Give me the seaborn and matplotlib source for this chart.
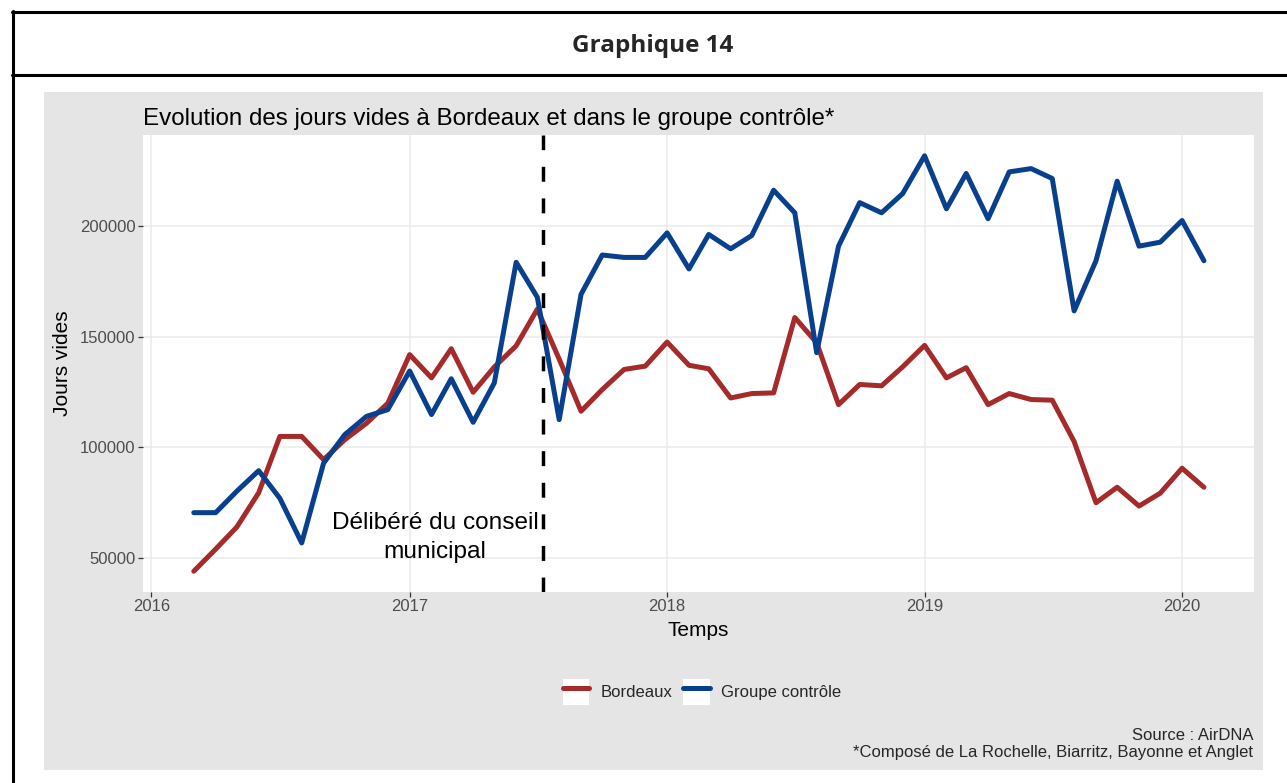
import numpy as np
import pandas as pd
import matplotlib.pyplot as plt
from matplotlib.patches import Rectangle
from matplotlib.lines import Line2D
from matplotlib.legend_handler import HandlerTuple
import matplotlib.dates as mdates
import seaborn as sns

# ============================================================
# 1. DONNÉES (jours vides par mois)
# ============================================================
mois = pd.date_range('2016-03-01', periods=48, freq='MS')

bordeaux = [44000, 54000, 64000, 79500, 105000, 105000, 94500, 103500, 111000, 120000,
            142000, 131500, 144700, 125000, 136400, 146000, 162600, 140000, 116400, 126200,
            135300, 136800, 147700, 137200, 135600, 122400, 124400, 124700, 158800, 147400,
            119400, 128500, 127900, 136500, 146200, 131500, 136100, 119400, 124400, 121700,
            121400, 102700, 75000, 82000, 73500, 79300, 90600, 82000]

groupe_controle = [70500, 70500, 80200, 89500, 77000, 56800, 92900, 105800, 114100, 117100,
                   134600, 114900, 131100, 111400, 129200, 183800, 168000, 112600, 169300, 187100,
                   186000, 186000, 197100, 180800, 196400, 189900, 195900, 216400, 206200, 142900,
                   191100, 210800, 206200, 214900, 232000, 208000, 224000, 203500, 224700, 226200,
                   221700, 161800, 184500, 220500, 191100, 192900, 202700, 184500]

series = ['Bordeaux', 'Groupe contrôle']
couleurs = ['#A52A2A', '#08408E']
date_deliberation = pd.Timestamp('2017-07-09')
annee_ticks = [pd.Timestamp(f'{a}-01-01') for a in range(2016, 2021)]
y_ticks = [50000, 100000, 150000, 200000]

df = pd.DataFrame({
    'Temps': np.concatenate([mois, mois]),
    'Jours vides': bordeaux + groupe_controle,
    'Série': [series[0]] * len(mois) + [series[1]] * len(mois),
})

# ============================================================
# 2. FIGURE
# ============================================================
sns.set_theme(style='whitegrid')
plt.rcParams['font.family'] = ['Liberation Sans', 'DejaVu Sans']

W, H = 1287, 783
fig = plt.figure(figsize=(W / 100, H / 100), dpi=100)
fig.patch.set_facecolor('white')

def fx(px):
    return px / W

def fy(py):
    return 1 - py / H

# cadre "Graphique 14"
fig.add_artist(Line2D([fx(12), 1], [fy(12), fy(12)], color='black', lw=2.2))
fig.add_artist(Line2D([fx(12), 1], [fy(75), fy(75)], color='black', lw=2.2))
fig.add_artist(Line2D([fx(13), fx(13)], [fy(11), 0], color='black', lw=2.2))
fig.text(fx(653), fy(46), 'Graphique 14', ha='center', va='center',
         fontsize=17.5, fontweight='bold', family=['Open Sans', 'DejaVu Sans'])

# fond gris type ggplot
fig.add_artist(Rectangle((fx(44), fy(770)), fx(1263 - 44), (770 - 92) / H,
                         facecolor='#E5E5E5', edgecolor='none', zorder=0))

ax = fig.add_axes([fx(143), fy(592), fx(1254 - 143), (592 - 135) / H])
ax.set_facecolor('white')

sns.lineplot(data=df, x='Temps', y='Jours vides', hue='Série', palette=couleurs,
             linewidth=3.6, ax=ax, legend=True)

ax.axvline(date_deliberation, color='black', lw=2.5, ls=(0, (4.3, 4.8)))
ax.text(pd.Timestamp('2017-02-06'), 59200, 'Délibéré du conseil\nmunicipal',
        ha='center', va='center', fontsize=17.6, linespacing=1.43, color='black')

ax.set_xlim(pd.Timestamp('2015-12-20'), pd.Timestamp('2020-04-12'))
ax.set_ylim(34600, 241400)
ax.set_xticks(annee_ticks)
ax.xaxis.set_major_formatter(mdates.DateFormatter('%Y'))
ax.set_yticks(y_ticks)
ax.set_yticklabels([str(v) for v in y_ticks])

ax.grid(True, color='#EBEBEB', lw=1.1)
for s in ax.spines.values():
    s.set_visible(False)
ax.tick_params(axis='both', length=3.5, width=0.9, color='#333333',
               labelsize=12, labelcolor='#4D4D4D', pad=1.8)
ax.tick_params(axis='x', bottom=True)
ax.tick_params(axis='y', left=True)

ax.set_xlabel('Temps', fontsize=15, color='black', labelpad=5)
ax.set_ylabel('Jours vides', fontsize=15, color='black', labelpad=6)
ax.set_title('Evolution des jours vides à Bordeaux et dans le groupe contrôle*',
             loc='left', fontsize=17.4, color='black', pad=7)

# légende en bas, clés sur fond blanc
handles, labels = ax.get_legend_handles_labels()
ax.get_legend().remove()
cles = [(Rectangle((0, 0), 1, 1, facecolor='white', edgecolor='none'), h) for h in handles]
fig.legend(cles, labels, handler_map={tuple: HandlerTuple(ndivide=1)},
           loc='center', bbox_to_anchor=(fx(702), fy(692)), ncol=2, frameon=False,
           fontsize=12, handlelength=1.6, handleheight=2.0, handletextpad=0.66,
           columnspacing=0.66)

fig.text(fx(1253), fy(735), 'Source : AirDNA', ha='right', va='center', fontsize=12)
fig.text(fx(1253), fy(752), '*Composé de La Rochelle, Biarritz, Bayonne et Anglet',
         ha='right', va='center', fontsize=12)

plt.savefig('out.png', dpi=100)
